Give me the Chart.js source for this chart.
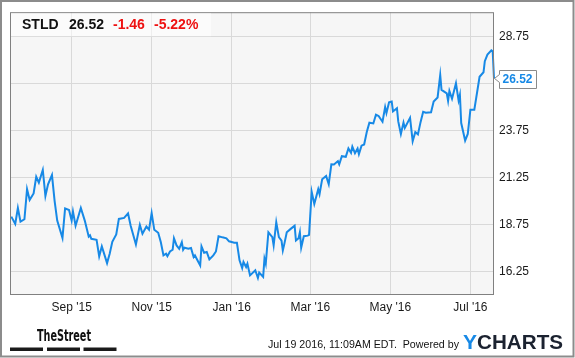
<!DOCTYPE html>
<html>
<head>
<meta charset="utf-8">
<script src="https://cdn.jsdelivr.net/npm/chart.js@4/dist/chart.umd.min.js"></script>
<style>
  html, body { margin: 0; padding: 0; background: #ffffff; }
  #wrap { width: 575px; height: 358px; position: relative; }
</style>
</head>
<body>
<div id="wrap"><canvas id="c" width="575" height="358"></canvas></div>
<script>
// ---- data (days counted from 1 Sep 2015) ----
const ticker = "STLD";
const dayChange = -1.46;
const dayChangePct = -5.22;
const stampText = "Jul 19 2016, 11:09AM EDT.";

const tickDays = [0, 61, 122, 182, 243, 304];
const tickLabels = ["Sep '15", "Nov '15", "Jan '16", "Mar '16", "May '16", "Jul '16"];
const yTicks = [16.25, 18.75, 21.25, 23.75, 26.25, 28.75];

const days = [-46,-43,-41,-39,-36,-34,-32,-29,-27,-25,-22,-20,-18,-15,-13,-11,-7,-5,-2,0,1,3,7,10,13,14,15,19,21,23,27,29,31,34,36,40,43,45,49,52,54,57,59,61,63,66,68,70,72,73,75,77,78,80,82,84,85,86,89,91,93,94,98,99,101,103,105,108,110,112,115,118,120,124,126,128,130,131,133,134,136,140,142,143,146,147,148,150,153,154,156,158,160,161,162,164,167,170,171,173,174,175,177,180,181,183,185,188,189,191,194,196,198,200,203,204,206,209,211,213,214,216,218,219,221,223,225,227,230,232,234,237,239,240,242,244,245,248,249,251,253,254,258,260,262,264,266,268,270,274,276,279,281,282,286,287,288,290,293,295,296,297,300,302,304,307,311,314,315,317,320,321,322];
const prices = [19.18,18.79,19.64,18.91,19.04,20.64,20.07,20.41,21.30,20.99,21.66,20.28,20.90,21.39,20.02,18.97,18.05,19.62,19.53,18.97,19.46,18.70,19.64,18.97,18.12,18.19,18.00,17.95,17.07,17.60,16.71,17.21,17.84,18.23,19.06,19.11,19.35,18.70,17.70,18.74,18.27,18.65,18.49,19.37,18.48,18.32,17.82,17.12,17.21,17.08,17.33,17.42,18.03,17.65,17.47,17.82,17.42,17.53,17.47,17.51,17.03,17.12,16.59,17.60,17.26,17.30,16.91,17.12,17.33,18.14,18.08,18.03,17.87,17.79,17.79,16.86,16.45,16.77,16.50,16.68,16.06,16.33,15.92,16.21,15.98,16.95,16.68,18.35,18.09,17.65,18.88,18.09,17.91,17.38,17.68,18.35,18.53,18.70,17.91,18.03,18.35,17.53,18.14,18.17,18.21,20.50,19.85,20.64,20.38,21.17,21.34,20.90,21.96,21.95,22.13,21.96,22.39,22.36,22.80,22.57,22.90,22.55,22.80,22.50,22.95,23.01,23.68,24.17,24.13,24.60,24.53,24.22,25.00,24.68,25.26,25.30,24.77,24.94,24.24,23.57,24.18,23.89,24.43,23.19,23.67,23.55,24.20,24.75,24.70,24.72,25.30,25.51,26.70,25.91,25.73,25.33,25.86,25.44,26.26,25.35,25.65,24.15,23.22,23.57,24.86,24.86,26.61,26.85,27.44,27.79,28.02,27.97,26.52];

const LINE = '#1789e6';
const GRID = '#d9d9d9';
const FRAME = '#808080';
const FONT = '"Liberation Sans", Arial, sans-serif';

function fitText(ctx, text, x, y, width) {
  const w = ctx.measureText(text).width;
  ctx.save();
  ctx.translate(x, y);
  ctx.scale(width / w, 1);
  ctx.fillText(text, 0, 0);
  ctx.restore();
}

const decorPlugin = {
  id: 'decor',
  beforeDraw(chart) {
    const { ctx, chartArea: a } = chart;
    ctx.save();
    ctx.fillStyle = '#ffffff';
    ctx.fillRect(0, 0, chart.width, chart.height);
    ctx.fillStyle = '#f6f6f6';
    ctx.fillRect(a.left, a.top, a.right - a.left, a.bottom - a.top);
    ctx.restore();
  },
  afterDraw(chart) {
    const { ctx, chartArea: a } = chart;
    ctx.save();
    // plot frame
    ctx.strokeStyle = FRAME;
    ctx.lineWidth = 1;
    ctx.strokeRect(a.left + 0.5, a.top + 0.5, a.right - a.left - 1, a.bottom - a.top);
    // outer frame
    ctx.strokeStyle = '#8c8c8c';
    ctx.lineWidth = 2;
    ctx.strokeRect(1, 1, 572.5, 355.5);

    // header box
    ctx.fillStyle = 'rgba(255,255,255,0.55)';
    ctx.fillRect(a.left + 1, a.top + 1, 200, 23);
    const last = prices[prices.length - 1];
    ctx.font = 'bold 14px ' + FONT;
    ctx.textBaseline = 'alphabetic';
    ctx.textAlign = 'left';
    ctx.fillStyle = '#111111';
    ctx.fillText(ticker, 22, 29);
    ctx.fillText(last.toFixed(2), 69, 29);
    ctx.fillStyle = '#ee1111';
    ctx.fillText(dayChange.toFixed(2), 113, 29);
    ctx.fillText(dayChangePct.toFixed(2) + '%', 154, 29);

    // last price flag
    const meta = chart.getDatasetMeta(0);
    const pt = meta.data[meta.data.length - 1];
    const px = pt.x, py = pt.y;
    const bx = px + 5.5, bw = 37, bh = 18, by = Math.round(py - 8.5) + 0.5;
    ctx.beginPath();
    ctx.moveTo(bx, by);
    ctx.lineTo(bx + bw, by);
    ctx.lineTo(bx + bw, by + bh);
    ctx.lineTo(bx, by + bh);
    ctx.lineTo(bx, py + 4);
    ctx.lineTo(px + 0.5, py);
    ctx.lineTo(bx, py - 4);
    ctx.closePath();
    ctx.fillStyle = '#ffffff';
    ctx.fill();
    ctx.strokeStyle = '#8a8a8a';
    ctx.lineWidth = 1;
    ctx.stroke();
    ctx.font = 'bold 12px ' + FONT;
    ctx.fillStyle = LINE;
    ctx.textAlign = 'left';
    ctx.textBaseline = 'middle';
    ctx.fillText(last.toFixed(2), bx + 3, by + bh / 2 + 0.5);

    // footer: TheStreet logo
    ctx.textBaseline = 'alphabetic';
    ctx.font = 'bold 15px "Liberation Sans Narrow", "DejaVu Sans Condensed", ' + FONT;
    ctx.fillStyle = '#111111';
    fitText(ctx, 'TheStreet', 37, 341, 54);
    ctx.fillStyle = '#1a1a1a';
    ctx.fillRect(10, 347.5, 33, 3.5);
    ctx.fillRect(47, 347.5, 33, 3.5);
    ctx.fillRect(83.5, 347.5, 33, 3.5);

    // footer: stamp
    ctx.font = '11px ' + FONT;
    ctx.fillStyle = '#111111';
    fitText(ctx, stampText + '  Powered by', 268, 348, 191);

    // YCHARTS logo
    ctx.font = 'bold 21px ' + FONT;
    ctx.fillStyle = LINE;
    ctx.fillText('Y', 463, 348.5);
    const yw = ctx.measureText('Y').width;
    ctx.fillStyle = '#1b2230';
    fitText(ctx, 'CHARTS', 463 + yw, 348.5, 100 - yw);
    ctx.restore();
  }
};

new Chart(document.getElementById('c'), {
  type: 'line',
  data: {
    datasets: [{
      data: days.map((d, i) => ({ x: d, y: prices[i] })),
      borderColor: LINE,
      borderWidth: 2,
      pointRadius: 0,
      tension: 0,
      fill: false,
      clip: false
    }]
  },
  options: {
    responsive: false,
    animation: false,
    layout: { padding: { left: 10, top: 10, right: 0, bottom: 0 } },
    plugins: { legend: { display: false }, tooltip: { enabled: false } },
    scales: {
      x: {
        type: 'linear',
        position: 'bottom',
        min: -47,
        max: 322,
        grid: { color: GRID, lineWidth: 1, drawTicks: false },
        border: { display: false },
        ticks: {
          autoSkip: false,
          maxRotation: 0,
          padding: 6,
          color: '#1a1a1a',
          font: { family: FONT, size: 12 },
          callback: (v) => { const i = tickDays.indexOf(v); return i >= 0 ? tickLabels[i] : ''; }
        },
        afterBuildTicks: (s) => { s.ticks = tickDays.map(v => ({ value: v })); },
        afterFit: (s) => { s.height = 64; }
      },
      y: {
        type: 'linear',
        position: 'right',
        min: 15.07,
        max: 30.04,
        grid: { color: GRID, lineWidth: 1, drawTicks: false },
        border: { display: false },
        ticks: {
          autoSkip: false,
          padding: 5,
          color: '#1a1a1a',
          font: { family: FONT, size: 12 },
          callback: (v) => (v === 26.25 ? '' : v.toFixed(2))
        },
        afterBuildTicks: (s) => { s.ticks = yTicks.map(v => ({ value: v })); },
        afterFit: (s) => { s.width = 81; }
      }
    }
  },
  plugins: [decorPlugin]
});
</script>
</body>
</html>
